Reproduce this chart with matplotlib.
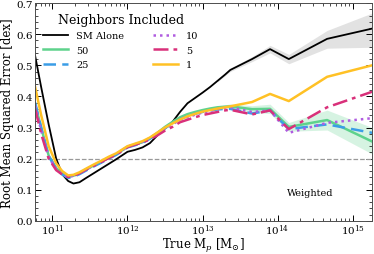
import numpy as np
import matplotlib
matplotlib.use("Agg")
import matplotlib.pyplot as plt
from matplotlib.ticker import MultipleLocator, LogLocator, NullFormatter

plt.rcParams['font.family'] = 'DejaVu Serif'
plt.rcParams['mathtext.fontset'] = 'dejavuserif'

# log10 of true halo mass (dense part on the left, sparse bins above 10^13.4)
logm = [10.77, 10.85, 10.95, 11.05, 11.13, 11.21, 11.28, 11.36, 11.45, 11.55,
        11.65, 11.75, 11.85, 12.00, 12.10, 12.20, 12.30, 12.40, 12.50, 12.60,
        12.70, 12.80, 12.90, 13.00, 13.10, 13.20, 13.30, 13.37, 13.66, 13.90,
        14.15, 14.66, 15.26]

sm_alone = [0.53, 0.43, 0.31, 0.20, 0.15, 0.128, 0.12, 0.124, 0.138, 0.153,
            0.168, 0.183, 0.198, 0.222, 0.228, 0.236, 0.25, 0.275, 0.297, 0.318,
            0.35, 0.378, 0.395, 0.412, 0.43, 0.45, 0.47, 0.485, 0.52, 0.552,
            0.52, 0.585, 0.618]
n50 = [0.375, 0.30, 0.21, 0.17, 0.152, 0.142, 0.145, 0.153, 0.165, 0.178,
       0.19, 0.203, 0.214, 0.238, 0.245, 0.253, 0.266, 0.283, 0.302, 0.318,
       0.333, 0.343, 0.35, 0.356, 0.361, 0.365, 0.367, 0.368, 0.359, 0.36,
       0.302, 0.324, 0.255]
n25 = [0.38, 0.30, 0.208, 0.167, 0.149, 0.138, 0.142, 0.15, 0.162, 0.175,
       0.187, 0.2, 0.212, 0.236, 0.243, 0.251, 0.264, 0.28, 0.298, 0.312,
       0.327, 0.336, 0.344, 0.35, 0.355, 0.358, 0.36, 0.36, 0.345, 0.355,
       0.295, 0.31, 0.283]
n10 = [0.37, 0.29, 0.205, 0.166, 0.15, 0.141, 0.145, 0.153, 0.165, 0.178,
       0.19, 0.203, 0.214, 0.238, 0.246, 0.254, 0.266, 0.282, 0.298, 0.31,
       0.325, 0.333, 0.341, 0.348, 0.353, 0.36, 0.364, 0.365, 0.35, 0.355,
       0.283, 0.315, 0.33]
n5 = [0.36, 0.28, 0.2, 0.163, 0.149, 0.141, 0.145, 0.153, 0.165, 0.177,
      0.189, 0.202, 0.213, 0.237, 0.245, 0.252, 0.262, 0.275, 0.29, 0.302,
      0.317, 0.325, 0.333, 0.34, 0.345, 0.35, 0.355, 0.357, 0.342, 0.355,
      0.295, 0.365, 0.415]
n1 = [0.43, 0.34, 0.24, 0.185, 0.16, 0.146, 0.148, 0.156, 0.168, 0.181,
      0.193, 0.206, 0.217, 0.24, 0.248, 0.256, 0.268, 0.284, 0.3, 0.313,
      0.326, 0.336, 0.344, 0.351, 0.356, 0.361, 0.365, 0.368, 0.382, 0.408,
      0.385, 0.463, 0.50]

# uncertainty bands (only shown for the high mass bins)
band_logm = [13.20, 13.37, 13.66, 13.90, 14.15, 14.66, 15.26]
sm_lo = [0.447, 0.480, 0.512, 0.540, 0.505, 0.555, 0.558]
sm_hi = [0.453, 0.490, 0.528, 0.564, 0.535, 0.612, 0.668]
n50_lo = [0.362, 0.360, 0.348, 0.345, 0.288, 0.292, 0.215]
n50_hi = [0.368, 0.376, 0.370, 0.375, 0.316, 0.356, 0.300]

mass = 10 ** np.array(logm)
bmass = 10 ** np.array(band_logm)

fig, ax = plt.subplots(figsize=(3.74, 2.55), dpi=100)
fig.subplots_adjust(left=0.094, right=0.995, top=0.984, bottom=0.13)

ax.fill_between(bmass, sm_lo, sm_hi, color='0.55', alpha=0.25, lw=0)
ax.fill_between(bmass, n50_lo, n50_hi, color='#5ed28c', alpha=0.25, lw=0)

ax.axhline(0.2, color='0.6', ls='--', lw=0.9)

ax.plot(mass, sm_alone, color='k', lw=1.3, label='SM Alone')
ax.plot(mass, n50, color='#5ed28c', lw=1.8, label='50')
ax.plot(mass, n25, color='#3b9de6', lw=1.8, ls=(0, (5, 2.5)), label='25')
ax.plot(mass, n10, color='#b05ce0', lw=1.8, ls=(0, (1, 1.6)), label='10')
ax.plot(mass, n5, color='#d9307a', lw=1.8, ls=(0, (6, 2, 1.5, 2)), label='5')
ax.plot(mass, n1, color='#ffc125', lw=1.8, label='1')

ax.set_xscale('log')
ax.set_xlim(10 ** 10.77, 10 ** 15.26)
ax.set_ylim(0, 0.7)
ax.yaxis.set_major_locator(MultipleLocator(0.1))
ax.yaxis.set_minor_locator(MultipleLocator(0.02))
ax.xaxis.set_minor_locator(LogLocator(base=10, subs=np.arange(2, 10)))
ax.xaxis.set_minor_formatter(NullFormatter())
ax.tick_params(which='both', direction='in', top=True, right=True, labelsize=7.5, pad=2)
ax.tick_params(axis='x', pad=1)
ax.tick_params(which='major', length=4, width=0.7)
ax.tick_params(which='minor', length=2, width=0.5)
for s in ax.spines.values():
    s.set_linewidth(0.7)
    s.set_color('0.3')

ax.set_xlabel(r'True M$_p$ [M$_{\odot}$]', fontsize=8.5, labelpad=-0.5)
ax.set_ylabel('Root Mean Squared Error [dex]', fontsize=8.5, labelpad=1)

ax.text(0.816, 0.13, 'Weighted', transform=ax.transAxes, fontsize=7,
        ha='center', va='center')

leg = ax.legend(ncol=2, loc='upper left', frameon=False, fontsize=7,
                title='Neighbors Included', title_fontsize=9,
                handlelength=2.6, handletextpad=0.8, columnspacing=3.0,
                labelspacing=0.55, borderaxespad=0.4,
                bbox_to_anchor=(0.0, 0.99))

fig.savefig('out.png', dpi=100)
